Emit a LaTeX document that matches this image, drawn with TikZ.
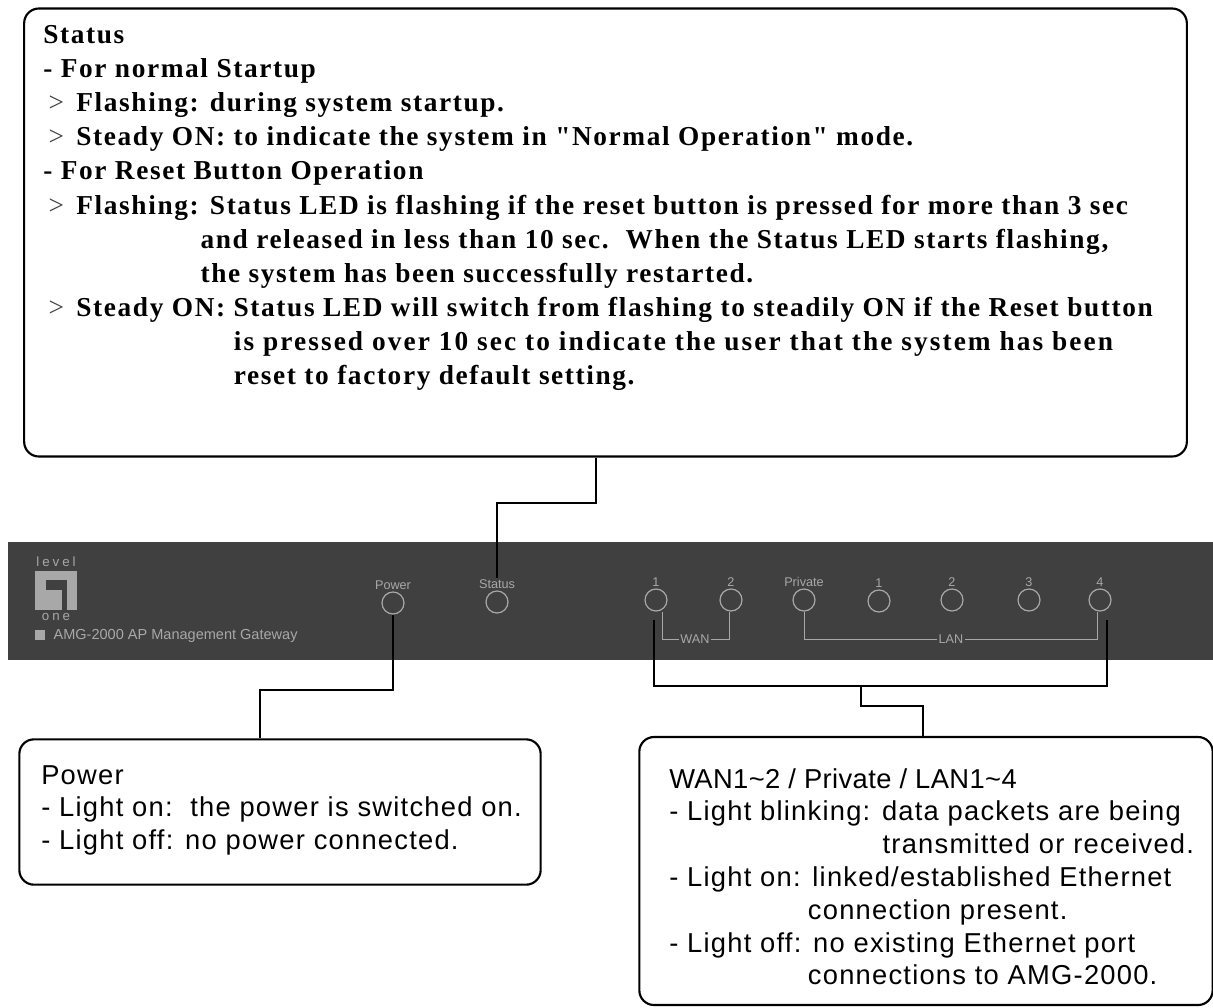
\documentclass[tikz,border=0pt]{standalone}
\usepackage{fontspec}
\setmainfont{Liberation Serif}[Ligatures=TeXOff,LetterSpace=5.9]
\setsansfont{Liberation Sans}[LetterSpace=4.5]
\newfontfamily\panelfont{Liberation Sans}
\usetikzlibrary{positioning,calc}
\definecolor{panelgray}{HTML}{404040}
\definecolor{printgray}{HTML}{A8A8A8}
\newcommand{\gtsign}{{\mdseries\color{darkgray}>}\hspace{3pt}\ }

\begin{document}
\begin{tikzpicture}[
  x=0.75pt,y=-0.75pt,
  callout/.style={draw,line width=1.6pt,rounded corners=11pt,inner sep=0pt},
  wire/.style={draw,line width=2pt},
  led/.style={circle,draw=printgray,line width=0.9pt,minimum size=16.5pt,inner sep=0pt},
  ledlabel/.style={text=printgray,font=\panelfont\fontsize{9.5}{10}\selectfont,inner sep=1pt},
  bandtext/.style={text=printgray,font=\panelfont\fontsize{9.5}{10}\selectfont,inner sep=1pt},
  bandline/.style={draw=printgray,line width=0.6pt},
  logotext/.style={text=printgray,font=\panelfont\fontsize{10}{11}\selectfont\addfontfeature{LetterSpace=22},inner sep=0pt},
  logopart/.style={inner sep=0pt,rectangle},
  statustext/.style={anchor=north west,align=left,inner sep=0pt,font=\bfseries\fontsize{20.5}{25.6}\selectfont},
  infotext/.style={anchor=north west,align=left,inner sep=0pt,font=\sffamily\fontsize{20.5}{24.6}\selectfont}
]
\useasboundingbox (0,0) rectangle (1213,1007);
\node[fill=panelgray,minimum width=904pt,minimum height=88.5pt,inner sep=0pt] (panel) at (610.5,601) {};

\node[callout,minimum width=872pt,minimum height=336pt] (statusbox) at (605.5,232.5) {};
\node[callout,minimum width=391pt,minimum height=109pt] (powerbox) at (280,812) {};
\node[callout,minimum width=430pt,minimum height=201pt] (linkbox) at (926,871) {};

\node[statustext] (statusinfo) at (43,25) {Status\\
- For normal Startup\\
\hspace*{4pt}\gtsign Flashing: during system startup.\\
\hspace*{4pt}\gtsign Steady ON: to indicate the system in "Normal Operation" mode.\\
- For Reset Button Operation\\
\hspace*{4pt}\gtsign Flashing: Status LED is flashing if the reset button is pressed for more than 3 sec\\
\hspace*{118pt}and released in less than 10 sec.\ \ When the Status LED starts flashing,\\
\hspace*{118pt}the system has been successfully restarted.\\
\hspace*{4pt}\gtsign Steady ON: Status LED will switch from flashing to steadily ON if the Reset button\\
\hspace*{143pt}{\addfontfeature{LetterSpace=7.6}is pressed over 10 sec to indicate the user that the system has been}\\
\hspace*{143pt}reset to factory default setting.};
\node[infotext] (powerinfo) at (41,765) {Power\\
- Light on:\ \ the power is switched on.\\
- Light off: no power connected.};
\node[infotext] (linkinfo) at (669,768) {{\addfontfeature{LetterSpace=1.5}WAN1\textasciitilde2 / Private / LAN1\textasciitilde4}\\
- Light blinking: data packets are being\\
\hspace*{160pt}transmitted or received.\\
- Light on: linked/established Ethernet\\
\hspace*{104pt}connection present.\\
- Light off: no existing Ethernet port\\
\hspace*{104pt}connections to AMG-2000.};

\node[led] (powerled) at (393,603) {};
\node[led] (statusled) at (497,602) {};
\node[led] (wanoneled) at (656,600) {};
\node[led] (wantwoled) at (731,600) {};
\node[led] (privateled) at (804,600) {};
\node[led] (lanoneled) at (879,601) {};
\node[led] (lantwoled) at (952,600) {};
\node[led] (lanthreeled) at (1029,600) {};
\node[led] (lanfourled) at (1100,600) {};

\node[ledlabel,above=0.5pt of powerled] (powerlabel) {Power};
\node[ledlabel,above=0.5pt of statusled] (statuslabel) {Status};
\node[ledlabel,above=0.5pt of wanoneled] (wanonelabel) {1};
\node[ledlabel,above=0.5pt of wantwoled] (wantwolabel) {2};
\node[ledlabel,above=0.5pt of privateled] (privatelabel) {Private};
\node[ledlabel,above=0.5pt of lanoneled] (lanonelabel) {1};
\node[ledlabel,above=0.5pt of lantwoled] (lantwolabel) {2};
\node[ledlabel,above=0.5pt of lanthreeled] (lanthreelabel) {3};
\node[ledlabel,above=0.5pt of lanfourled] (lanfourlabel) {4};

\node[bandtext] (wanband) at (695,639) {WAN};
\node[bandtext] (lanband) at (951,639) {LAN};
\node[bandtext,font=\panelfont\fontsize{10.9}{12}\selectfont,anchor=west] (gatewayname) at (52,636) {AMG-2000 AP Management Gateway};
\node[logotext] (logotop) at (56,562) {level};
\node[logotext] (logobottom) at (56,617) {one};
\node[logopart,fill=printgray,minimum width=31.5pt,minimum height=29.5pt] (logo) at (56,590.5) {};
\node[logopart,fill=panelgray,minimum width=12.75pt,minimum height=7.5pt] (logogapa) at (54,585) {};
\node[logopart,fill=panelgray,minimum width=3.75pt,minimum height=22pt] (logogapb) at (64.5,595) {};
\node[logopart,fill=printgray,minimum width=7.5pt,minimum height=7.5pt] (gatewaymark) at (40,635) {};

\draw[bandline] (wanoneled.south) ++(6,0) |- (wanband.west);
\draw[bandline] (wantwoled.south) ++(-2,0) |- (wanband.east);
\draw[bandline] (privateled.south) |- (lanband.west);
\draw[bandline] (lanfourled.south) ++(-3,0) |- (lanband.east);

\coordinate (statusdrop) at (596,503);
\coordinate (powerdrop) at (392,690);
\coordinate (linkbus) at (861,686);
\coordinate (linkdrop) at (923,706);
\coordinate (wanend) at (654,620);
\coordinate (lanend) at (1107,620);

\draw[wire] (statusbox.south -| statusdrop) -- (statusdrop) -| (statuslabel.north);
\draw[wire] (powerled.south) |- (powerdrop) -| (powerbox.north -| 260,0);
\draw[wire] (wanend) |- (linkbus) -| (lanend);
\draw[wire] (linkbus) |- (linkdrop) -- (linkbox.north -| linkdrop);
\end{tikzpicture}
\end{document}
